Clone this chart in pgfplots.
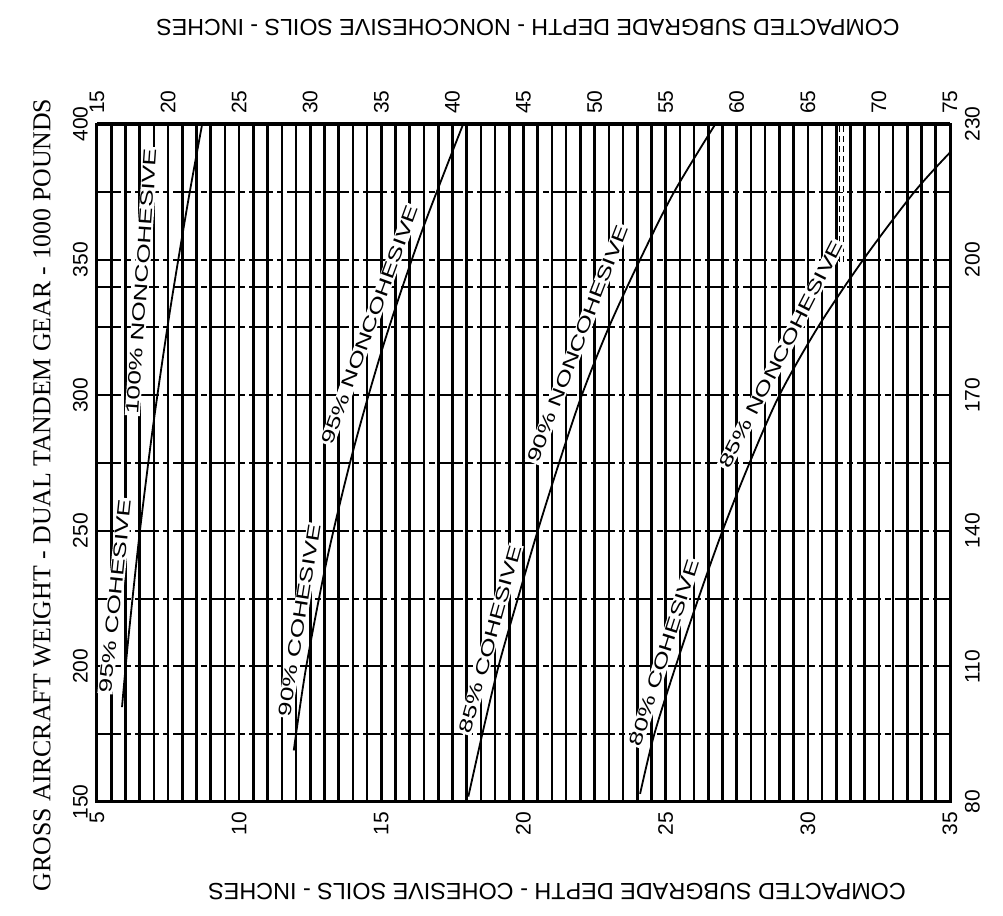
\documentclass[border=0pt]{standalone}
\usepackage{fontspec}
\setmainfont{Liberation Sans}
\newfontfamily\labfont[FakeStretch=1.45]{Liberation Sans}
\newfontfamily\serifttl{Liberation Serif}
\usepackage{pgfplots}
\pgfplotsset{compat=1.18}
\begin{document}
\begin{tikzpicture}[
  lab/.style={fill=white, inner sep=0.6pt, font=\labfont\fontsize{9}{10}\selectfont}
]
\useasboundingbox (-48.5pt,-57pt) rectangle (453pt,401pt);
\begin{axis}[
  at={(0,0)}, anchor=south west,
  scale only axis, width=426.5pt, height=339pt,
  xmin=5, xmax=35, ymin=150, ymax=400,
  xtick={5,10,...,35}, ytick={150,200,...,400},
  minor x tick num=9,
  minor ytick={175,225,275,325,340,375},
  xmajorgrids, xminorgrids, ymajorgrids, yminorgrids,
  major x grid style={black, line width=1.3pt},
  minor x grid style={black, line width=1.3pt},
  major y grid style={black, line width=1.0pt, dash pattern=on 12pt off 2pt on 3pt off 2pt},
  minor y grid style={black, line width=1.0pt, dash pattern=on 12pt off 2pt on 3pt off 2pt},
  tick style={draw=none},
  axis line style={black, line width=1.5pt},
  /pgf/number format/assume math mode=true,
  tick label style={font=\fontsize{10.5}{12}\selectfont},
  xticklabel style={rotate=90, anchor=east},
  yticklabel style={rotate=90, anchor=south},
  xticklabel shift=1.5pt,
  yticklabel shift=1pt,
]
% 95% cohesive / 100% noncohesive
\addplot[black, line width=0.9pt, smooth, tension=0.5] coordinates {
 (5.88,185) (6.10,210) (6.51,250) (6.99,290) (7.55,330) (8.18,370) (8.70,400)};
% 90% cohesive / 95% noncohesive
\addplot[black, line width=0.9pt, smooth, tension=0.5] coordinates {
 (11.92,169) (12.36,200) (13.10,240) (14.02,280) (15.12,320) (16.41,360) (17.88,400)};
% 85% cohesive / 90% noncohesive
\addplot[black, line width=0.9pt, smooth, tension=0.5] coordinates {
 (18.06,152) (18.55,175) (19.12,200) (19.80,225) (20.50,250) (21.25,275) (22.05,300) (23.00,325) (24.10,350) (25.30,375) (26.75,400)};
% 80% cohesive / 85% noncohesive
\addplot[black, line width=0.9pt, smooth, tension=0.5] coordinates {
 (24.10,153) (24.60,175) (25.35,200) (26.15,225) (27.00,250) (27.95,275) (29.00,300) (30.35,325) (31.95,350) (33.75,375) (35.00,389.5)};
% dashed vertical mark
\addplot[black, line width=0.5pt, densely dashed, double, double distance=1.5pt] coordinates {(31.2,349) (31.2,400)};

\node[lab, rotate=84] at (axis cs:5.64,226) {95\% COHESIVE};
\node[lab, rotate=86] at (axis cs:6.57,342) {100\% NONCOHESIVE};
\node[lab, rotate=81] at (axis cs:12.12,217) {90\% COHESIVE};
\node[lab, rotate=70] at (axis cs:14.6,326) {95\% NONCOHESIVE};
\node[lab, rotate=74.5] at (axis cs:18.83,210) {85\% COHESIVE};
\node[lab, rotate=69] at (axis cs:21.9,319) {90\% NONCOHESIVE};
\node[lab, rotate=72.5] at (axis cs:24.95,205) {80\% COHESIVE};
\node[lab, rotate=63] at (axis cs:29.06,315) {85\% NONCOHESIVE};
\end{axis}
\begin{axis}[
  at={(0,0)}, anchor=south west,
  scale only axis, width=426.5pt, height=339pt,
  xmin=15, xmax=75, ymin=80, ymax=230,
  axis x line*=top, axis y line*=right,
  xtick={15,20,...,75}, ytick={80,110,...,230},
  tick style={draw=none},
  axis line style={black, line width=1.5pt},
  /pgf/number format/assume math mode=true,
  tick label style={font=\fontsize{10.5}{12}\selectfont},
  xticklabel style={rotate=90, anchor=west},
  yticklabel style={rotate=90, anchor=north},
  xticklabel shift=1.5pt,
  yticklabel shift=4pt,
]
\addplot[draw=none] coordinates {(15,80)};
\end{axis}
\node[rotate=90, inner sep=0pt, font=\serifttl\fontsize{12.9}{14}\selectfont] at (-27.5pt,153.5pt)
  {GROSS AIRCRAFT WEIGHT - DUAL TANDEM GEAR - 1000 POUNDS};
\node[rotate=180, inner sep=0pt, font=\fontsize{11.6}{13}\selectfont] at (215.5pt,387.5pt)
  {COMPACTED SUBGRADE DEPTH - NONCOHESIVE SOILS - INCHES};
\node[rotate=180, inner sep=0pt, font=\fontsize{11.7}{13}\selectfont] at (230pt,-45pt)
  {COMPACTED SUBGRADE DEPTH - COHESIVE SOILS - INCHES};
\end{tikzpicture}
\end{document}
